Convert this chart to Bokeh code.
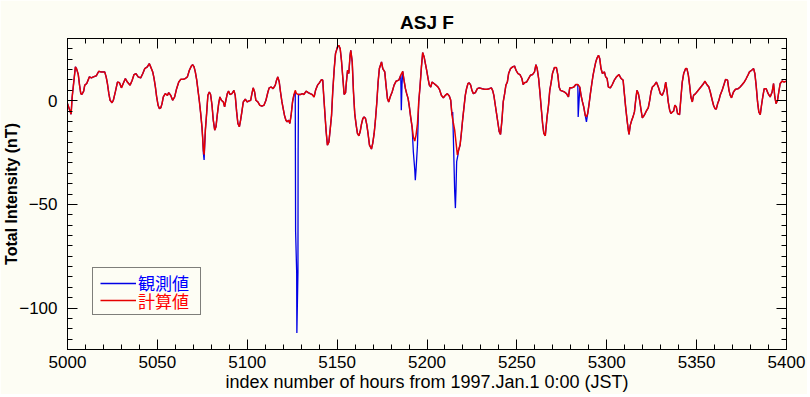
from bokeh.plotting import figure
from bokeh.models import Range1d, LinearAxis, FixedTicker, Legend, LegendItem
from bokeh.embed import file_html
from bokeh.resources import INLINE

# ---------------- data ----------------
title_text = "ASJ F"
x_label = "index number of hours from 1997.Jan.1 0:00 (JST)"
y_label = "Total Intensity (nT)"
series_names = ["観測値", "計算値"]          # observed, calculated
x_ticks = [5000, 5050, 5100, 5150, 5200, 5250, 5300, 5350, 5400]
y_ticks = [-100, -50, 0]

# calculated values (red)
calc_hours = [
    5000.0, 5002.0, 5002.6, 5003.3, 5004.4, 5005.0, 5006.0, 5006.7, 5007.4, 5008.0,
    5009.0, 5009.6, 5010.7, 5012.2, 5013.3, 5014.4, 5016.0, 5017.4, 5018.5, 5020.7,
    5021.5, 5022.2, 5023.0, 5023.7, 5024.8, 5025.5, 5026.7, 5027.8, 5028.9, 5030.0,
    5031.0, 5032.2, 5033.3, 5034.8, 5036.0, 5037.0, 5038.1, 5039.3, 5040.7, 5041.9,
    5043.0, 5044.4, 5045.5, 5046.3, 5047.4, 5048.1, 5048.9, 5049.6, 5050.4, 5051.1,
    5051.9, 5052.6, 5053.3, 5054.4, 5055.6, 5056.3, 5057.4, 5058.5, 5059.6, 5060.7,
    5061.9, 5063.0, 5064.4, 5065.6, 5066.7, 5067.8, 5068.9, 5069.6, 5070.4, 5071.1,
    5071.9, 5072.6, 5073.3, 5074.1, 5074.8, 5075.2, 5075.6, 5076.0, 5076.7, 5077.4,
    5078.1, 5078.9, 5079.6, 5080.4, 5081.1, 5081.9, 5082.6, 5083.3, 5084.1, 5084.8,
    5085.6, 5086.7, 5087.4, 5088.1, 5088.9, 5089.6, 5090.4, 5091.5, 5092.6, 5093.3,
    5094.1, 5094.8, 5095.6, 5096.3, 5097.0, 5097.8, 5098.9, 5100.0, 5100.7, 5101.9,
    5102.6, 5103.3, 5104.1, 5104.8, 5105.9, 5107.0, 5108.1, 5109.3, 5110.4, 5111.5,
    5112.2, 5113.3, 5114.4, 5115.6, 5116.3, 5117.0, 5117.8, 5118.5, 5119.3, 5120.0,
    5120.7, 5121.5, 5122.2, 5123.0, 5123.7, 5124.4, 5125.2, 5125.9, 5126.7, 5127.4,
    5128.5, 5129.6, 5130.7, 5131.5,
    5132.8, 5133.9, 5135.0, 5136.1, 5137.2, 5138.0, 5139.1, 5140.2, 5141.3, 5142.0,
    5142.4, 5143.2, 5143.9, 5144.6, 5145.4, 5146.1, 5146.9, 5147.6, 5148.4, 5149.1,
    5150.2, 5150.9, 5151.7, 5152.4, 5153.2, 5153.9, 5154.7, 5155.0, 5155.8, 5156.5,
    5157.2, 5157.6, 5158.4, 5159.1, 5159.8, 5160.6, 5161.3, 5162.1, 5162.8, 5163.5,
    5164.3, 5165.0, 5165.8, 5166.5, 5167.2, 5168.0, 5169.1, 5169.8, 5170.6, 5171.3,
    5172.1, 5172.8, 5173.5, 5174.7, 5175.4, 5176.5, 5177.2, 5178.0, 5178.7, 5179.5,
    5180.6, 5181.7, 5182.8, 5184.3, 5185.4, 5186.5, 5187.2, 5188.0, 5188.7, 5189.5,
    5190.2, 5190.9, 5191.7, 5192.4, 5193.2, 5193.9, 5194.7, 5195.4, 5196.1, 5196.9,
    5197.6, 5198.4, 5199.1, 5199.8, 5200.6, 5201.3, 5202.1, 5202.8, 5203.9, 5205.0,
    5206.1, 5206.9, 5208.0, 5209.1, 5210.2, 5211.3, 5212.4, 5213.2, 5213.9, 5214.7,
    5215.4, 5216.1, 5216.9, 5217.6, 5218.4, 5219.1, 5219.8, 5220.6, 5221.3, 5222.0,
    5222.8, 5223.5, 5224.3, 5225.0, 5225.8, 5226.9, 5228.0, 5229.1, 5230.6, 5232.1,
    5233.5, 5234.7, 5235.8, 5236.5, 5237.2, 5238.0, 5238.7, 5239.5, 5240.2, 5240.9,
    5241.7, 5242.4, 5243.2, 5243.9, 5244.7, 5245.4, 5246.5, 5247.6, 5248.7, 5249.5,
    5250.6, 5251.7, 5252.8, 5253.5, 5254.3, 5255.4, 5256.5, 5257.6, 5258.7, 5259.8,
    5260.6, 5261.3, 5262.1, 5262.8, 5263.5, 5264.3, 5265.0, 5265.8,
    5266.8, 5267.6, 5268.3, 5269.1, 5269.8, 5270.9, 5272.0, 5272.8, 5273.5, 5274.2,
    5275.4, 5276.5, 5277.6, 5278.7, 5279.4, 5280.5, 5281.7, 5282.8, 5283.9, 5285.0,
    5285.7, 5286.5, 5287.2, 5288.0, 5288.7, 5289.4, 5290.2, 5290.9, 5291.7, 5292.4,
    5293.1, 5293.9, 5294.6, 5295.4, 5296.1, 5296.8, 5297.6, 5298.7, 5299.4, 5300.2,
    5300.9, 5302.0, 5303.1, 5304.2, 5305.4, 5306.8, 5308.0, 5309.1, 5309.8, 5310.5,
    5311.3, 5312.0, 5312.4, 5313.1, 5313.9, 5314.6, 5315.4, 5316.1, 5316.8, 5317.6,
    5318.3, 5319.1, 5319.8, 5320.9, 5322.0, 5323.1, 5323.9, 5324.6, 5325.4, 5326.5,
    5327.6, 5328.7, 5329.8, 5330.9, 5332.0, 5332.8, 5333.5, 5334.2, 5335.0, 5335.7,
    5336.5, 5337.2, 5337.9, 5338.7, 5339.4, 5340.5, 5341.3, 5342.0, 5342.8, 5343.9,
    5344.6, 5345.4, 5346.1, 5346.8, 5347.6, 5348.3, 5349.4, 5350.5, 5351.6, 5352.8,
    5353.9, 5354.6, 5355.7, 5356.8, 5357.6, 5358.7, 5359.4, 5360.2, 5360.9, 5361.7,
    5362.4, 5363.1, 5364.2, 5365.4, 5366.1, 5367.2, 5368.0, 5368.7, 5369.4, 5370.5,
    5371.6, 5373.1, 5374.2, 5375.4, 5376.5, 5377.6, 5378.7, 5379.4, 5380.6, 5381.7,
    5382.4, 5383.1, 5383.9, 5384.6, 5385.4, 5386.1, 5386.8, 5387.6, 5388.7, 5389.8,
    5390.9, 5392.0, 5392.8, 5393.5, 5394.2, 5395.0, 5395.7, 5396.5, 5397.6, 5398.7,
    5399.4, 5400.0,
]
calc_values = [
    -1.4, -6.5, 1.8, 7.5, 16.3, 15.5, 12.6, 7.5, 3.4, 3.0,
    4.6, 7.5, 8.3, 11.5, 11.0, 11.5, 12.0, 14.2, 13.9, 13.9,
    11.5, 8.3, 3.4, 0.2, -1.0, 0.2, 4.6, 9.0, 8.7, 6.2,
    8.3, 10.7, 9.0, 7.5, 9.9, 12.6, 13.1, 11.5, 11.0, 13.1,
    15.5, 16.3, 17.9, 16.3, 13.9, 11.0, 6.6, 1.8, -2.2, -3.8,
    -3.4, -1.4, 1.8, 3.4, 2.6, 3.9, 2.6, 0.2, 1.8, 5.8,
    9.0, 10.3, 10.3, 10.7, 11.5, 14.7, 16.7, 17.4, 16.3, 13.9,
    9.9, 5.0, 0.2, -6.2, -12.6, -18.0, -24.0, -26.0, -14.2, -6.2,
    2.6, 4.2, 3.0, -2.2, -9.4, -14.2, -12.6, -7.0, -1.4, 1.8,
    0.2, -0.6, -3.0, 0.2, 3.4, 4.6, 3.0, 3.4, 5.0, 2.6,
    -5.4, -11.0, -12.6, -9.4, -5.4, -0.6, 0.7, -0.6, -0.2, 0.2,
    3.4, 6.2, 4.2, 0.2, -0.6, -2.2, -2.6, -2.2, 0.2, 4.2,
    6.2, 6.6, 5.8, 7.5, 9.9, 11.5, 9.0, 4.2, -0.6, -3.8,
    -7.0, -9.4, -10.2, -9.4, -11.0, -7.0, -0.6, 2.6, 5.0, 3.4,
    3.0, 3.0, 3.4, 3.0,
    4.6, 3.9, 3.4, 3.0, 1.8, 5.0, 7.5, 8.7, 10.2, 9.9,
    4.2, -6.2, -15.0, -21.4, -20.0, -14.2, -7.0, 5.0, 15.5, 22.7,
    25.9, 26.7, 25.1, 19.5, 10.7, 3.0, 3.9, 7.5, 14.7, 13.1,
    21.9, 24.3, 18.7, 4.2, -6.2, -11.8, -15.8, -16.9, -15.0, -11.5,
    -8.6, -7.8, -8.6, -11.5, -15.8, -21.4, -23.3, -20.6, -15.8, -9.4,
    -0.6, 9.0, 15.5, 18.7, 15.5, 13.9, 7.5, 1.0, -0.6, 1.8,
    4.2, 7.5, 9.4, 9.9, 12.3, 14.2, 9.9, 5.8, 3.4, 1.0,
    -3.0, -7.8, -12.6, -17.4, -19.5, -16.6, -11.0, -0.6, 6.6, 16.3,
    23.2, 21.1, 17.9, 14.7, 10.7, 7.5, 6.6, 9.0, 8.3, 7.5,
    6.6, 5.5, 2.6, 1.4, 2.6, 3.4, 2.3, 0.2, -7.0, -11.0,
    -14.2, -19.8, -26.2, -23.8, -21.4, -15.8, -9.4, -3.0, 2.6, 5.8,
    8.3, 8.6, 7.5, 5.0, 3.4, 3.9, 5.8, 6.2, 5.8, 5.5,
    5.5, 5.8, 6.2, 5.0, 2.6, -2.2, -6.2, -11.0, -15.0, -16.3,
    -9.4, -0.6, 3.4, 7.5, 9.0, 13.1, 15.5, 16.3, 16.7, 14.7,
    13.1, 12.6, 10.7, 7.8, 8.7, 9.0, 10.7, 12.3, 12.6, 13.9,
    17.4, 15.5, 10.7, 4.2, -3.0, -11.0, -15.8, -16.9,
    -7.8, -2.2, 5.0, 9.0, 13.1, 16.0, 16.0, 12.3, 6.6, 5.0,
    4.6, 4.2, 3.4, 1.8, 6.2, 6.2, 6.6, 7.8, 7.8, 6.6,
    2.6, -0.6, -3.0, -7.0, -7.8, -6.2, -1.4, 3.4, 8.3, 12.3,
    15.5, 18.7, 20.6, 21.9, 20.3, 15.5, 13.1, 13.9, 11.5, 10.7,
    6.6, 6.2, 7.8, 9.9, 11.5, 12.6, 10.7, 9.9, 3.4, -3.0,
    -9.4, -14.2, -16.3, -11.8, -9.4, -7.8, -5.4, 0.2, 5.0, 3.4,
    0.2, -4.6, -8.3, -7.0, -5.0, -3.4, 0.2, 4.2, 6.6, 7.5,
    9.0, 6.6, 3.4, 2.6, 5.0, 9.0, 5.0, -0.6, -4.6, -6.2,
    -5.4, -5.0, -2.2, -3.0, -6.2, -6.7, 1.8, 9.0, 13.1, 15.5,
    15.5, 12.3, 7.5, 1.8, -0.6, 2.6, 3.4, 4.6, 5.8, 7.1,
    8.3, 9.4, 7.8, 6.6, 4.2, 0.2, -2.2, -3.8, -4.1, -1.4,
    0.2, 2.6, 5.0, 8.3, 10.3, 9.9, 5.0, 2.6, 1.4, 4.2,
    5.5, 5.8, 6.6, 7.8, 9.0, 10.7, 12.6, 13.9, 14.7, 15.5,
    13.1, 7.5, -0.6, -5.4, -6.7, -2.2, 1.8, 5.8, 5.8, 3.4,
    1.8, 4.2, 8.3, 1.8, -1.4, 0.2, 4.2, 8.3, 9.5, 9.0,
    9.3, 9.3,
]

# observed values (blue): identical to the calculated curve except in these stretches
obs_dev_hours = [
    [5075.6, 5076.0],
    [5126.7, 5126.9, 5127.5, 5127.6, 5128.2, 5128.3, 5128.5],
    [5185.7, 5186.1],
    [5191.7, 5192.4, 5193.2, 5193.5, 5193.9, 5194.7],
    [5214.3, 5214.7, 5215.4, 5215.8, 5216.1, 5216.5, 5217.2],
    [5284.1, 5284.6],
    [5288.7],
]
obs_dev_values = [
    [-25.4, -28.6],
    [4.0, -63.0, -83.0, -112.0, -83.0, -25.0, 3.0],
    [-4.6, 8.0],
    [-12.6, -24.6, -33.4, -38.3, -33.4, -21.4],
    [-5.4, -19.0, -43.8, -51.8, -43.8, -29.4, -26.2],
    [-7.8, 0.0],
    [-10.2],
]

# build observed series
pts = list(zip(calc_hours, calc_values))
for hs, vs in zip(obs_dev_hours, obs_dev_values):
    lo, hi = min(hs), max(hs)
    pts = [(h, v) for (h, v) in pts if not (lo <= h <= hi)]
    pts += list(zip(hs, vs))
pts.sort()
obs_hours = [h for h, _ in pts]
obs_values = [v for _, v in pts]

# ---------------- styling ----------------
BG = "#fdfdf4"
BLUE_LINE = "#0000e6"
RED_LINE = "#e60000"
FONT = "Liberation Sans"
CJK = "Noto Sans CJK JP"

p = figure(width=807, height=394, output_backend="svg", toolbar_location=None,
           x_range=Range1d(5000, 5400), y_range=Range1d(-120, 30),
           min_border_left=67, min_border_right=21, min_border_top=38,
           min_border_bottom=45, background_fill_color=BG, border_fill_color=BG,
           title=title_text)
p.grid.visible = False
p.outline_line_color = "black"
p.outline_line_width = 1

p.title.align = "center"
p.title.vertical_align = "top"
p.title.text_font = FONT
p.title.text_font_size = "19px"
p.title.text_font_style = "bold"
p.title.text_color = "black"
p.title.standoff = 8

x_ticker = FixedTicker(ticks=x_ticks, minor_ticks=list(range(5000, 5401, 10)))
y_ticker = FixedTicker(ticks=y_ticks, minor_ticks=list(range(-120, 31, 5)))

def style_axis(ax):
    ax.axis_line_color = "black"
    ax.major_tick_in = 10
    ax.major_tick_out = 0
    ax.minor_tick_in = 5
    ax.minor_tick_out = 0
    ax.major_tick_line_color = "black"
    ax.minor_tick_line_color = "black"
    ax.major_label_text_font = FONT
    ax.major_label_text_font_size = "17px"
    ax.major_label_text_color = "black"
    ax.axis_label_text_font = FONT
    ax.axis_label_text_color = "black"

xa = p.xaxis[0]
xa.ticker = x_ticker
style_axis(xa)
xa.major_label_standoff = 6
xa.axis_label = x_label
xa.axis_label_text_font_size = "18px"
xa.axis_label_text_font_style = "normal"
xa.axis_label_standoff = 1

ya = p.yaxis[0]
ya.ticker = y_ticker
style_axis(ya)
ya.major_label_standoff = 10
ya.axis_label = y_label
ya.axis_label_text_font_size = "16px"
ya.axis_label_text_font_style = "bold"
ya.axis_label_standoff = -4

for ticker, place, st in ((y_ticker, "right", 0), (x_ticker, "above", 7)):
    ax = LinearAxis(ticker=ticker)
    style_axis(ax)
    ax.major_label_text_font_size = "1px"
    ax.major_label_text_color = None
    ax.major_label_standoff = st
    p.add_layout(ax, place)

r_obs = p.line(obs_hours, obs_values, line_color=BLUE_LINE, line_width=1.3)
r_calc = p.line(calc_hours, calc_values, line_color=RED_LINE, line_width=1.5)
r_box = p.line([], [], line_alpha=0)

# legend frame
box = Legend(items=[LegendItem(label=" ", renderers=[r_box])], location=(25, 34),
             padding=0, spacing=0, margin=0, glyph_width=107, glyph_height=46,
             label_height=46, label_width=0, label_standoff=0,
             label_text_font_size="1px", label_text_alpha=0,
             border_line_color="black", border_line_width=1,
             background_fill_alpha=0)
p.add_layout(box)

for name, rend, col, loc in ((series_names[0], r_obs, "#0000ff", (33, 51.3)),
                             (series_names[1], r_calc, "#ff0000", (33, 34.0))):
    lg = Legend(items=[LegendItem(label=name, renderers=[rend])], location=loc,
                padding=0, spacing=0, margin=0, glyph_width=36, glyph_height=30,
                label_height=30, label_width=0, label_standoff=2,
                label_text_font=CJK, label_text_font_size="17px",
                label_text_color=col, border_line_alpha=0,
                background_fill_alpha=0)
    p.add_layout(lg)

open("out.html", "w").write(file_html(p, INLINE))
